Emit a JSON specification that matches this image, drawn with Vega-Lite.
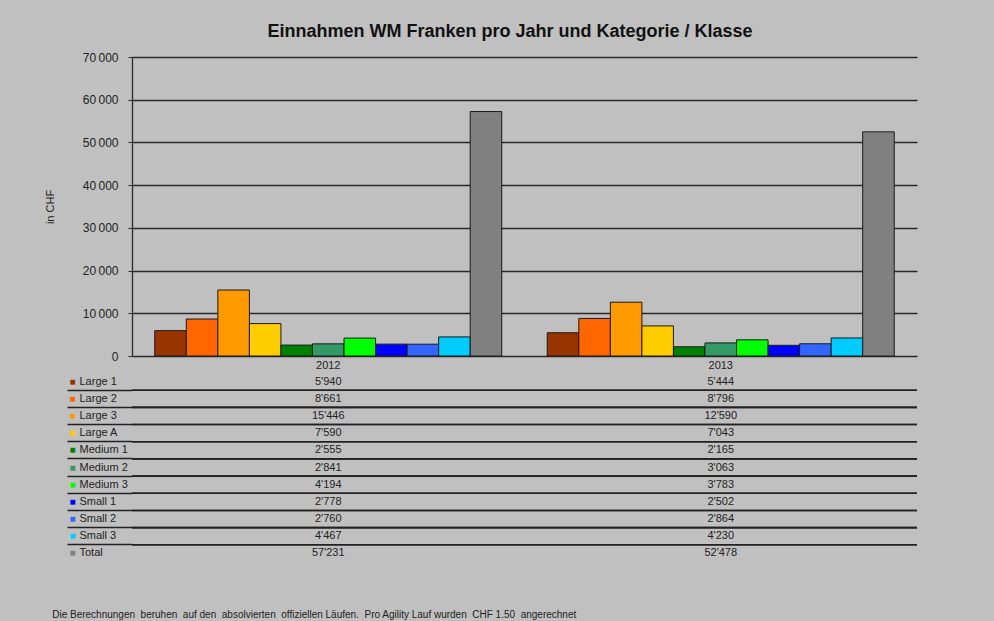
{
  "$schema": "https://vega.github.io/schema/vega-lite/v6.json",
  "background": "#c0c0c0",
  "padding": {"left": 44, "top": 23, "right": 77, "bottom": 10},
  "config": {
    "font": "Liberation Sans",
    "view": {"stroke": null},
    "locale": {"number": {"decimal": ".", "thousands": "'", "grouping": [3], "currency": ["CHF ", ""]}}
  },
  "title": {
    "text": "Einnahmen WM Franken pro Jahr und Kategorie / Klasse",
    "fontSize": 18,
    "fontWeight": "bold",
    "color": "#111",
    "anchor": "middle",
    "dx": 29,
    "offset": 10
  },
  "datasets": {
    "rev": [
      {"year": "2012", "cat": "Large 1", "value": 5940},
      {"year": "2012", "cat": "Large 2", "value": 8661},
      {"year": "2012", "cat": "Large 3", "value": 15446},
      {"year": "2012", "cat": "Large A", "value": 7590},
      {"year": "2012", "cat": "Medium 1", "value": 2555},
      {"year": "2012", "cat": "Medium 2", "value": 2841},
      {"year": "2012", "cat": "Medium 3", "value": 4194},
      {"year": "2012", "cat": "Small 1", "value": 2778},
      {"year": "2012", "cat": "Small 2", "value": 2760},
      {"year": "2012", "cat": "Small 3", "value": 4467},
      {"year": "2012", "cat": "Total", "value": 57231},
      {"year": "2013", "cat": "Large 1", "value": 5444},
      {"year": "2013", "cat": "Large 2", "value": 8796},
      {"year": "2013", "cat": "Large 3", "value": 12590},
      {"year": "2013", "cat": "Large A", "value": 7043},
      {"year": "2013", "cat": "Medium 1", "value": 2165},
      {"year": "2013", "cat": "Medium 2", "value": 3063},
      {"year": "2013", "cat": "Medium 3", "value": 3783},
      {"year": "2013", "cat": "Small 1", "value": 2502},
      {"year": "2013", "cat": "Small 2", "value": 2864},
      {"year": "2013", "cat": "Small 3", "value": 4230},
      {"year": "2013", "cat": "Total", "value": 52478}
    ]
  },
  "spacing": 1,
  "vconcat": [
    {
      "width": 785,
      "height": 299,
      "data": {"name": "rev"},
      "mark": {"type": "bar", "stroke": "#1a1a1a", "strokeWidth": 1},
      "encoding": {
        "x": {
          "field": "year", "type": "nominal",
          "scale": {"paddingInner": 0.116, "paddingOuter": 0.058},
          "axis": {"title": null, "labelAngle": 0, "ticks": false, "domain": false, "labelPadding": 3, "labelFontSize": 11, "labelColor": "#222"}
        },
        "xOffset": {
          "field": "cat", "type": "nominal",
          "sort": ["Large 1", "Large 2", "Large 3", "Large A", "Medium 1", "Medium 2", "Medium 3", "Small 1", "Small 2", "Small 3", "Total"],
          "scale": {"paddingInner": 0, "paddingOuter": 0}
        },
        "y": {
          "field": "value", "type": "quantitative",
          "scale": {"domain": [0, 70000]},
          "axis": {
            "title": "in CHF", "titleFontSize": 11, "titleFontWeight": "normal", "titleColor": "#222", "titlePadding": 27,
            "values": [0, 10000, 20000, 30000, 40000, 50000, 60000, 70000],
            "labelExpr": "replace(format(datum.value, ',d'), \"'\", '\u2009')",
            "grid": true, "gridColor": "#2a2a2a", "gridOpacity": 1, "gridWidth": 1.3,
            "domainColor": "#2a2a2a", "domainWidth": 1.3, "tickColor": "#2a2a2a", "tickSize": 4,
            "labelPadding": 10, "labelFontSize": 12, "labelColor": "#222"
          }
        },
        "color": {
          "field": "cat", "type": "nominal",
          "scale": {
            "domain": ["Large 1", "Large 2", "Large 3", "Large A", "Medium 1", "Medium 2", "Medium 3", "Small 1", "Small 2", "Small 3", "Total"],
            "range": ["#993300", "#ff6600", "#ff9900", "#ffcc00", "#008000", "#339966", "#00ff00", "#0000ff", "#3366ff", "#00ccff", "#808080"]
          },
          "legend": null
        }
      }
    },
    {
      "width": 785,
      "height": 189,
      "data": {"name": "rev"},
      "title": {
        "text": "Die Berechnungen \u00a0beruhen \u00a0auf den \u00a0absolvierten \u00a0offiziellen Läufen. \u00a0Pro Agility Lauf wurden \u00a0CHF 1.50 \u00a0angerechnet",
        "orient": "bottom", "anchor": "start", "fontSize": 10, "fontWeight": "normal", "color": "#222", "dx": -14, "offset": 48
      },
      "layer": [
        {
          "mark": {"type": "text", "fontSize": 11, "color": "#222"},
          "encoding": {
            "x": {"field": "year", "type": "nominal", "scale": {"paddingInner": 0.116, "paddingOuter": 0.058}, "axis": null},
            "y": {
              "field": "cat", "type": "nominal",
              "sort": ["Large 1", "Large 2", "Large 3", "Large A", "Medium 1", "Medium 2", "Medium 3", "Small 1", "Small 2", "Small 3", "Total"],
              "scale": {"paddingInner": 0, "paddingOuter": 0},
              "axis": {"title": null, "orient": "left", "ticks": false, "tickSize": 0, "domain": false, "grid": false, "labelAlign": "left", "labelPadding": 53, "labelFontSize": 11, "labelColor": "#222"}
            },
            "text": {"field": "value", "type": "quantitative", "format": ",d"}
          }
        },
        {
          "transform": [{"filter": "datum.cat !== 'Large 1'"}],
          "mark": {"type": "rule", "color": "#222", "strokeWidth": 1.6},
          "encoding": {
            "y": {
              "field": "cat", "type": "nominal", "bandPosition": 0,
              "sort": ["Large 1", "Large 2", "Large 3", "Large A", "Medium 1", "Medium 2", "Medium 3", "Small 1", "Small 2", "Small 3", "Total"],
              "axis": {
                "title": null, "orient": "left", "domain": false, "grid": false, "ticks": true, "tickSize": 65, "bandPosition": 0, "tickWidth": 1.6,
                "tickColor": {"condition": {"test": "datum.value === 'Large 1'", "value": "transparent"}, "value": "#222"},
                "labelExpr": "'■'", "labelAlign": "center", "labelPadding": -5, "labelFontSize": 10,
                "labelColor": {
                  "condition": [
                    {"test": "datum.value === 'Large 1'", "value": "#993300"},
                    {"test": "datum.value === 'Large 2'", "value": "#ff6600"},
                    {"test": "datum.value === 'Large 3'", "value": "#ff9900"},
                    {"test": "datum.value === 'Large A'", "value": "#ffcc00"},
                    {"test": "datum.value === 'Medium 1'", "value": "#008000"},
                    {"test": "datum.value === 'Medium 2'", "value": "#339966"},
                    {"test": "datum.value === 'Medium 3'", "value": "#00ff00"},
                    {"test": "datum.value === 'Small 1'", "value": "#0000ff"},
                    {"test": "datum.value === 'Small 2'", "value": "#3366ff"},
                    {"test": "datum.value === 'Small 3'", "value": "#00ccff"}
                  ],
                  "value": "#808080"
                }
              }
            }
          }
        }
      ],
      "resolve": {"axis": {"y": "independent"}}
    }
  ]
}
